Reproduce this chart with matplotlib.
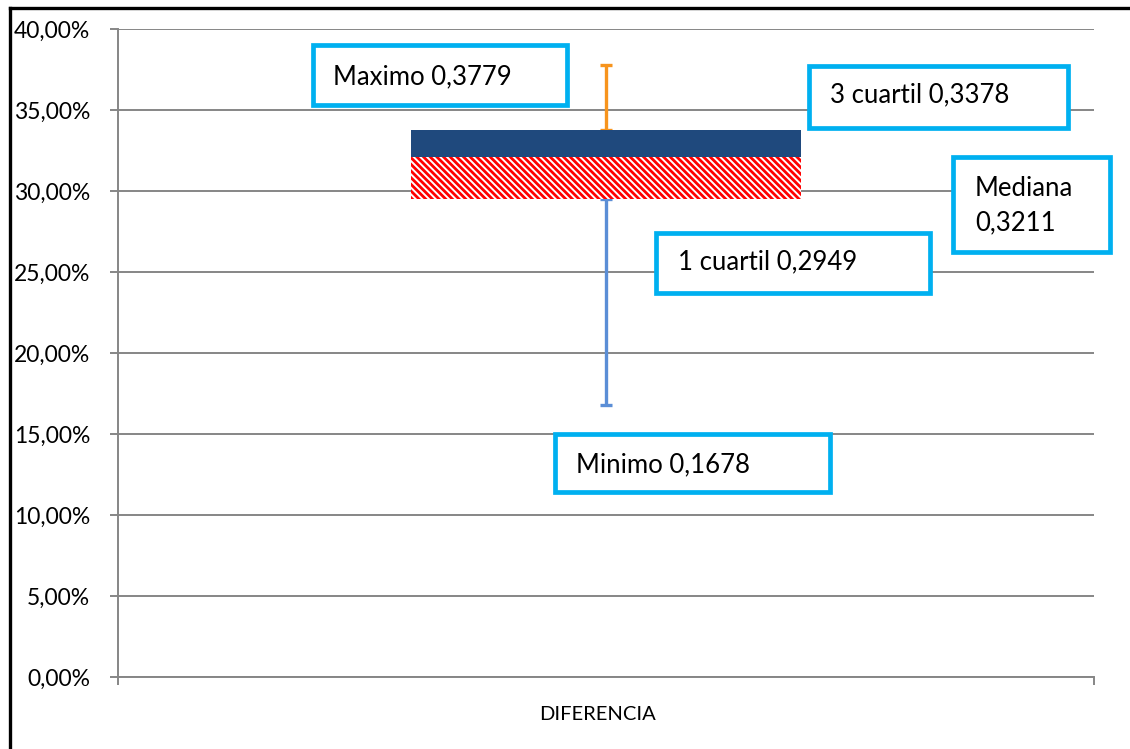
import matplotlib
matplotlib.use("Agg")
import matplotlib.pyplot as plt
from matplotlib.lines import Line2D
from matplotlib.patches import Rectangle
from matplotlib.ticker import MultipleLocator, FuncFormatter

# Summary statistics of the DIFERENCIA series
category = "DIFERENCIA"
minimo = 0.1678
cuartil_1 = 0.2949
mediana = 0.3211
cuartil_3 = 0.3378
maximo = 0.3779

plt.rcParams["font.family"] = ["Lato", "DejaVu Sans"]
plt.rcParams["hatch.linewidth"] = 2.0

GRID = "#868686"
CYAN = "#00B0F0"


def es(v, nd=4):
    return f"{v:.{nd}f}".replace(".", ",")


fig = plt.figure(figsize=(11.30, 7.49), dpi=100)
ax = fig.add_axes([118 / 1130, 72 / 749, 976 / 1130, 648 / 749])

xc = 0.5
w = 0.4

# Stacked box: invisible base, hatched lower half, solid upper half
ax.bar(xc, cuartil_1, w, color="none", linewidth=0)
ax.bar(xc, mediana - cuartil_1, w, bottom=cuartil_1, color="white",
       edgecolor="#FF0000", hatch="\\" * 5, linewidth=0, zorder=3)
ax.bar(xc, cuartil_3 - mediana, w, bottom=mediana, color="#1F497D",
       linewidth=0, zorder=3)

# Whiskers
ax.errorbar([xc], [cuartil_3], yerr=[[0], [maximo - cuartil_3]], fmt="none",
            ecolor="#F7941D", elinewidth=2.4, capsize=4.5, capthick=2.4, zorder=2)
ax.errorbar([xc], [cuartil_1], yerr=[[cuartil_1 - minimo], [0]], fmt="none",
            ecolor="#5B8ED6", elinewidth=2.4, capsize=4.5, capthick=2.4, zorder=2)

ax.set_xlim(0, 1)
ax.set_ylim(0, 0.40)
ax.yaxis.set_major_locator(MultipleLocator(0.05))
ax.yaxis.set_major_formatter(FuncFormatter(lambda v, p: es(v * 100, 2) + "%"))
ax.grid(axis="y", color=GRID, linewidth=1.4, zorder=0)
ax.set_axisbelow(True)

for s in ("top", "right"):
    ax.spines[s].set_visible(False)
for s in ("left", "bottom"):
    ax.spines[s].set_color(GRID)
    ax.spines[s].set_linewidth(1.4)

ax.tick_params(axis="y", length=6, width=1.4, color=GRID, labelsize=16.5,
               pad=14, labelcolor="black")
ax.set_xticks([0, 1])
ax.set_xticklabels(["", ""])
ax.tick_params(axis="x", which="major", length=6, width=1.4, color=GRID)
ax.set_xticks([xc - 0.009], minor=True)
ax.set_xticklabels([category], minor=True)
ax.tick_params(axis="x", which="minor", length=0, labelsize=14.5, pad=21)

# Callout boxes (axes-fraction geometry)
callouts = [
    ((0.1998, 0.8827, 0.2602, 0.0926), (0.2203, 0.9259), f"Maximo {es(maximo)}"),
    ((0.7080, 0.8472, 0.2654, 0.0957), (0.7295, 0.8981), f"3 cuartil {es(cuartil_3)}"),
    ((0.8555, 0.6559, 0.1609, 0.1466), (0.8781, 0.7269), f"Mediana\n{es(mediana)}"),
    ((0.5512, 0.5926, 0.2808, 0.0926), (0.5738, 0.6404), f"1 cuartil {es(cuartil_1)}"),
    ((0.4477, 0.2855, 0.2818, 0.0895), (0.4693, 0.3272), f"Minimo {es(minimo)}"),
]
for (x0, y0, bw, bh), (tx, ty), label in callouts:
    ax.add_patch(Rectangle((x0, y0), bw, bh, transform=ax.transAxes,
                           facecolor="white", edgecolor=CYAN, linewidth=3.4,
                           clip_on=False, zorder=5))
    ax.text(tx, ty, label, transform=ax.transAxes, ha="left", va="center",
            fontsize=18.5, linespacing=1.45, zorder=6)

# Chart-area frame (left and top edges)
fx = 9.5 / 1130
fy = 1 - 7.5 / 749
fig.add_artist(Line2D([fx, fx], [0, fy], color="black", linewidth=2.4,
                      transform=fig.transFigure))
fig.add_artist(Line2D([fx, 1], [fy, fy], color="black", linewidth=2.4,
                      transform=fig.transFigure))

fig.savefig("out.png", dpi=100)
